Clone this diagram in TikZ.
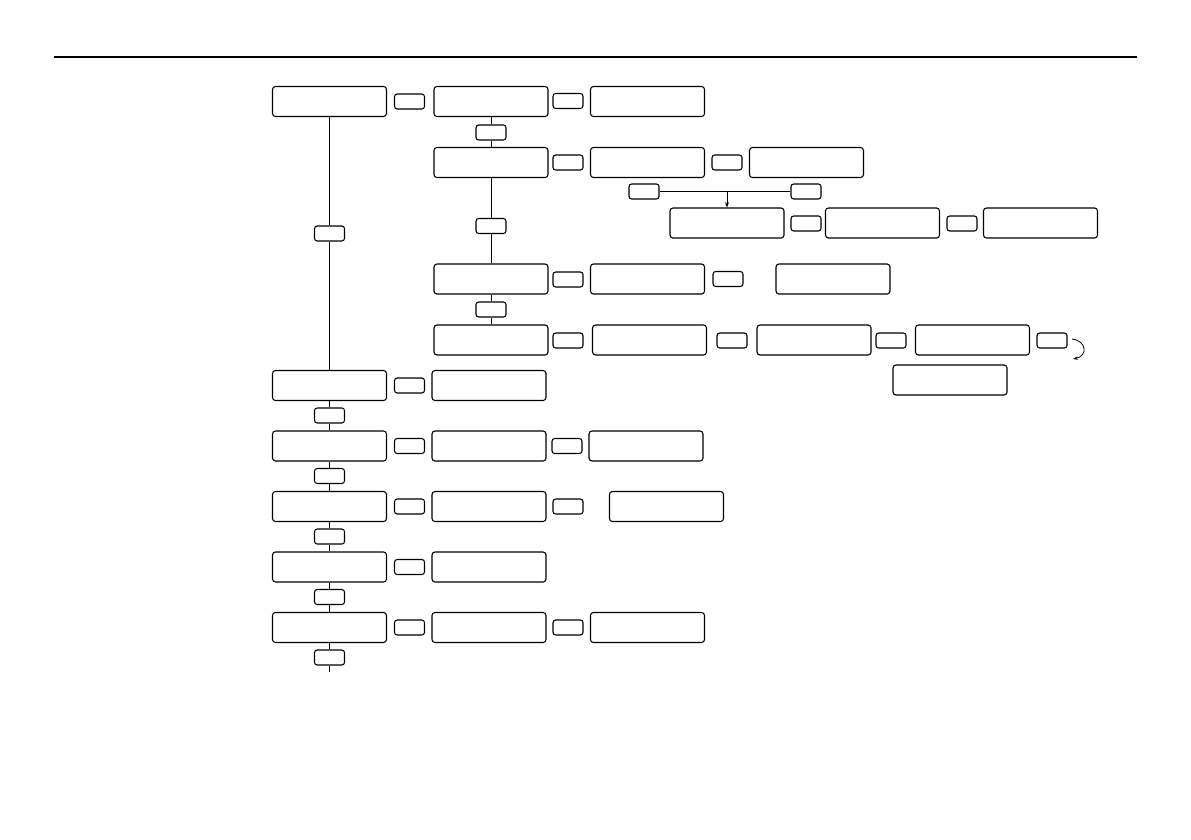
\documentclass[tikz,border=0pt]{standalone}
\usetikzlibrary{arrows.meta}
\begin{document}
\begin{tikzpicture}[x=0.75pt,y=-0.75pt,
  bigbox/.style={draw, line width=0.8pt, rounded corners=2.2pt, minimum width=85.5pt, minimum height=22.5pt, inner sep=0pt, fill=white},
  smallbox/.style={draw, line width=0.8pt, rounded corners=2pt, minimum width=22.5pt, minimum height=11.25pt, inner sep=0pt, fill=white},
  conn/.style={line width=0.7pt}]
\useasboundingbox (0,0) rectangle (1191,839);
\coordinate (r1) at (54,57);
\coordinate (r2) at (1137,57);
\draw[line width=1pt] (r1) -- (r2);
% column 1
\node[bigbox] (A1) at (329.5,101.5) {};
\node[bigbox] (A2) at (329.5,385.5) {};
\node[bigbox] (A3) at (329.5,446) {};
\node[bigbox] (A4) at (329.5,506.5) {};
\node[bigbox] (A5) at (329.5,567) {};
\node[bigbox] (A6) at (329.5,627.5) {};
\node[smallbox] (a1) at (329.5,233.5) {};
\node[smallbox] (a2) at (329.5,415.5) {};
\node[smallbox] (a3) at (329.5,476) {};
\node[smallbox] (a4) at (329.5,536.5) {};
\node[smallbox] (a5) at (329.5,597) {};
\node[smallbox] (a6) at (329.5,657.5) {};
\coordinate (aend) at (329.5,672);
\draw[conn] (A1.south) -- (a1.north);
\draw[conn] (a1.south) -- (A2.north);
\draw[conn] (A2.south) -- (a2.north);
\draw[conn] (a2.south) -- (A3.north);
\draw[conn] (A3.south) -- (a3.north);
\draw[conn] (a3.south) -- (A4.north);
\draw[conn] (A4.south) -- (a4.north);
\draw[conn] (a4.south) -- (A5.north);
\draw[conn] (A5.south) -- (a5.north);
\draw[conn] (a5.south) -- (A6.north);
\draw[conn] (A6.south) -- (a6.north);
\draw[conn] (a6.south) -- (aend);
% top row
\node[smallbox] (s11) at (409.5,101.5) {};
\node[bigbox] (B1) at (491,101.5) {};
\node[smallbox] (s12) at (568,101) {};
\node[bigbox] (C1) at (647.5,101.5) {};
% column 2
\node[smallbox] (v1) at (491,132.5) {};
\node[bigbox] (B2) at (491,162.5) {};
\node[smallbox] (s21) at (568,162.5) {};
\node[bigbox] (C2) at (647.5,162.5) {};
\node[smallbox] (s22) at (727,162.5) {};
\node[bigbox] (D2) at (806.5,162.5) {};
\node[smallbox] (L) at (644,191.5) {};
\node[smallbox] (R) at (806,191.5) {};
\coordinate (J) at (727,191.5);
\node[bigbox] (E1) at (727,223) {};
\node[smallbox] (s31) at (806,223.5) {};
\node[bigbox] (E2) at (882.5,223) {};
\node[smallbox] (s32) at (962,223.5) {};
\node[bigbox] (E3) at (1040.5,223) {};
\draw[conn] (L.east) -- (R.west);
\draw[conn,-{Stealth[length=4pt,width=3pt]}] (J) -- (E1.north);
\node[smallbox] (v2) at (491,226) {};
\node[bigbox] (B3) at (491,279) {};
\node[smallbox] (s41) at (568,279.5) {};
\node[bigbox] (C3) at (647.5,279) {};
\node[smallbox] (s42) at (728,279) {};
\node[bigbox] (D3) at (833,279) {};
\node[smallbox] (v3) at (491,309.5) {};
\node[bigbox] (B4) at (491,340) {};
\node[smallbox] (s51) at (568,340.5) {};
\node[bigbox] (C4) at (649.5,340) {};
\node[smallbox] (s52) at (732,340.5) {};
\node[bigbox] (D4) at (814,340) {};
\node[smallbox] (s53) at (891,340.5) {};
\node[bigbox] (D5) at (972.5,340) {};
\node[smallbox] (s54) at (1052,340.5) {};
\node[bigbox] (F) at (950,380) {};
\coordinate (cs) at (1072,339);
\coordinate (ce) at (1073,359);
\draw[line width=0.6pt,-{Stealth[length=3.5pt,width=2.5pt]}] (cs) .. controls (1087,341) and (1088,356) .. (ce);
\draw[conn] (B1.south) -- (v1.north);
\draw[conn] (v1.south) -- (B2.north);
\draw[conn] (B2.south) -- (v2.north);
\draw[conn] (v2.south) -- (B3.north);
\draw[conn] (B3.south) -- (v3.north);
\draw[conn] (v3.south) -- (B4.north);
% rows along column 1
\node[smallbox] (s61) at (409.5,385.5) {};
\node[bigbox] (G2) at (489,385.5) {};
\node[smallbox] (s71) at (409.5,446) {};
\node[bigbox] (G3) at (489,446) {};
\node[smallbox] (s72) at (567,446) {};
\node[bigbox] (H3) at (646,446) {};
\node[smallbox] (s81) at (409.5,506.5) {};
\node[bigbox] (G4) at (489,506.5) {};
\node[smallbox] (s82) at (568,506.5) {};
\node[bigbox] (H4) at (666.5,506.5) {};
\node[smallbox] (s91) at (409.5,567) {};
\node[bigbox] (G5) at (489,567) {};
\node[smallbox] (s101) at (409.5,627.5) {};
\node[bigbox] (G6) at (489,627.5) {};
\node[smallbox] (s102) at (568,627.5) {};
\node[bigbox] (H6) at (647.5,627.5) {};
\end{tikzpicture}
\end{document}
